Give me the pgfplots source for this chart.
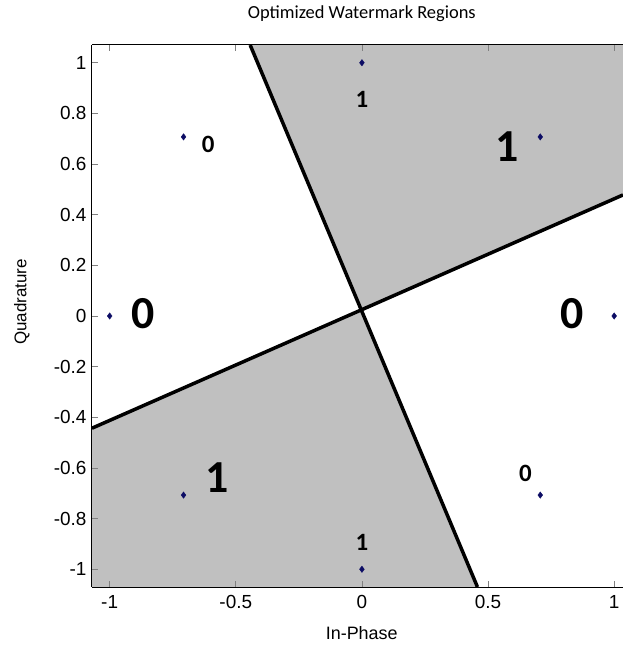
\documentclass[border=0pt]{standalone}
\usepackage{pgfplots}
\pgfplotsset{compat=1.18}
\usepackage{fontspec}
\setmainfont{Liberation Sans}
\newfontfamily\calibri{Carlito}
\definecolor{regiongray}{RGB}{192,192,192}
\definecolor{ptnavy}{RGB}{12,12,100}
\begin{document}
\begin{tikzpicture}
\begin{axis}[
  scale only axis,
  width=531bp, height=542bp,
  xmin=-1.07, xmax=1.035, ymin=-1.07, ymax=1.07,
  axis x line*=box, axis y line*=left,
  axis on top=true,
  tick align=inside,
  major tick length=6bp,
  xtick={-1,-0.5,0,0.5,1},
  ytick={-1,-0.8,-0.6,-0.4,-0.2,0,0.2,0.4,0.6,0.8,1},
  yticklabels={-1,-0.8,-0.6,-0.4,-0.2,0,0.2,0.4,0.6,0.8,1},
  xticklabels={-1,-0.5,0,0.5,1},
  ticklabel style={font=\fontsize{19}{21}\selectfont},
  yticklabel style={xshift=-2bp},
  xticklabel style={yshift=-5bp},
  xlabel={In-Phase},
  ylabel={Quadrature},
  xlabel style={font=\fontsize{18}{20}\selectfont, at={(axis description cs:0.508,-0.085)}, anchor=center},
  ylabel style={font=\fontsize{17}{19}\selectfont, at={(axis description cs:-0.132,0.526)}, anchor=center},
  every axis title shift=0pt,
  title={\calibri Optimized Watermark Regions},
  title style={font=\fontsize{18.5}{20}\selectfont, at={(axis description cs:0.508,1.057)}, anchor=center},
  axis line style={line width=1bp},
  major tick style={line width=0.8bp},
  clip=true,
]
% shaded decision regions
\addplot[fill=regiongray, draw=none] coordinates {(-0.002,0.024) (-0.443,1.07) (1.035,1.07) (1.035,0.478)} -- cycle;
\addplot[fill=regiongray, draw=none] coordinates {(-0.002,0.024) (-1.07,-0.443) (-1.07,-1.07) (0.458,-1.07)} -- cycle;
% boundaries
\addplot[black, line width=3.5bp] coordinates {(-0.443,1.07) (0.458,-1.07)};
\addplot[black, line width=3.5bp] coordinates {(-1.07,-0.443) (1.035,0.478)};
% constellation points
\addplot[only marks, mark=diamond*, mark size=3.2pt, color=ptnavy] coordinates {
 (1,0) (0.7071,0.7071) (0,1) (-0.7071,0.7071) (-1,0) (-0.7071,-0.7071) (0,-1) (0.7071,-0.7071)};
% labels
\node[font=\calibri\bfseries\fontsize{46}{46}\selectfont] at (axis cs:0.577,0.668) {1};
\node[font=\calibri\bfseries\fontsize{46}{46}\selectfont] at (axis cs:-0.866,0.008) {0};
\node[font=\calibri\bfseries\fontsize{46}{46}\selectfont] at (axis cs:0.834,0.008) {0};
\node[font=\calibri\bfseries\fontsize{46}{46}\selectfont] at (axis cs:-0.573,-0.640) {1};
\node[font=\calibri\bfseries\fontsize{25}{25}\selectfont] at (axis cs:-0.609,0.676) {0};
\node[font=\calibri\bfseries\fontsize{25}{25}\selectfont] at (axis cs:0.648,-0.621) {0};
\node[font=\calibri\bfseries\fontsize{25}{25}\selectfont] at (axis cs:0,0.854) {1};
\node[font=\calibri\bfseries\fontsize{25}{25}\selectfont] at (axis cs:0,-0.893) {1};
\end{axis}
\pgfresetboundingbox
\path[use as bounding box] ([xshift=-92bp,yshift=-60bp]current axis.south west) rectangle ([yshift=45bp]current axis.north east);
\end{tikzpicture}
\end{document}
